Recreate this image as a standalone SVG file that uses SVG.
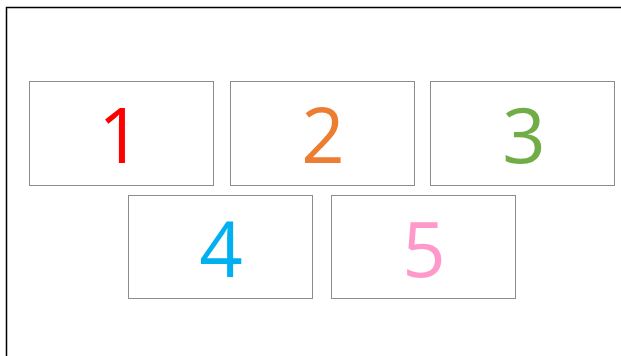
<svg xmlns="http://www.w3.org/2000/svg" width="621" height="356" viewBox="0 0 621 356">
<style>
.box{fill:#fff;stroke:#8c8c8c;stroke-width:1}
.num{font-family:"Open Sans","Noto Sans",sans-serif;font-size:76px;text-anchor:middle}
</style>
<rect x="0" y="0" width="621" height="356" fill="#fff"/>
<path d="M6.5 360 V7.5 H625" fill="none" stroke="#000" stroke-width="1.5"/>
<g id="node1"><rect class="box" x="29.5" y="81.5" width="184" height="104"/><text class="num" x="120" y="163" fill="#FF0000">1</text></g>
<g id="node2"><rect class="box" x="230.5" y="81.5" width="184" height="104"/><text class="num" x="323" y="163" fill="#ED7D31">2</text></g>
<g id="node3"><rect class="box" x="430.5" y="81.5" width="184" height="104"/><text class="num" x="524" y="163" fill="#70AD47">3</text></g>
<g id="node4"><rect class="box" x="128.5" y="195.5" width="184" height="103"/><text class="num" x="221" y="277" fill="#00B0F0">4</text></g>
<g id="node5"><rect class="box" x="331.5" y="195.5" width="184" height="103"/><text class="num" x="424" y="277" fill="#FF99CC">5</text></g>
<g id="connectors"></g>
</svg>
